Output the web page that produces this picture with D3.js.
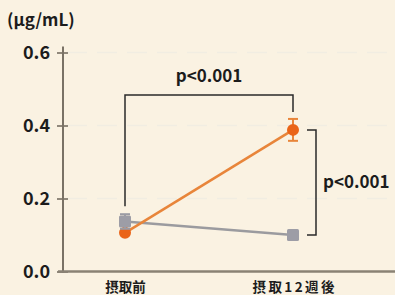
<!DOCTYPE html>
<html><head><meta charset="utf-8">
<script src="https://cdn.jsdelivr.net/npm/d3@7"></script>
<style>
html,body{margin:0;padding:0;background:#faf2e2;}
svg{display:block;}
text{font-family:"Noto Sans CJK JP","Noto Sans",sans-serif;font-weight:700;fill:#1c1c1c;}
</style></head>
<body>
<script>
const categories = ["摂取前", "摂取12週後"];
const orangeValues = [0.106, 0.388];
const orangeErr = [0.006, 0.03];
const grayValues = [0.137, 0.100];
const grayErr = [0.02, 0.01];
const yTicks = [0.0, 0.2, 0.4, 0.6];
const unitLabel = "(μg/mL)";
const pLabel = "p<0.001";

const W = 395, H = 295;
const svg = d3.select("body").append("svg").attr("width", W).attr("height", H);
svg.append("rect").attr("width", W).attr("height", H).attr("fill", "#faf2e2");

const y = d3.scaleLinear().domain([0, 0.6]).range([271.5, 52.5]);
const x = d3.scalePoint().domain(categories).range([125, 293]);
const axisX = 63;

// gridlines
svg.append("g").selectAll("line").data(yTicks.filter(d => d > 0)).join("line")
  .attr("x1", axisX + 4).attr("x2", W)
  .attr("y1", d => y(d)).attr("y2", d => y(d))
  .attr("stroke", "#f1ede2").attr("stroke-width", 1.5).attr("stroke-dasharray", "20,10");

// y axis
const yAxis = d3.axisLeft(y).tickValues(yTicks).tickFormat(d3.format(".1f")).tickSize(5).tickPadding(8);
const gy = svg.append("g").attr("transform", `translate(${axisX},0)`).call(yAxis);
gy.select(".domain").remove();
gy.selectAll(".tick line").attr("x1", -6).attr("x2", 5).attr("stroke", "#6e665a").attr("stroke-width", 1.5);
gy.selectAll(".tick text").attr("font-size", 18).attr("fill", "#1c1c1c")
  .attr("font-family", "'Noto Sans','Noto Sans CJK JP',sans-serif").attr("font-weight", 700);
svg.append("line").attr("x1", axisX).attr("x2", axisX).attr("y1", y(0.6) - 6).attr("y2", y(0) + 1)
  .attr("stroke", "#7a7266").attr("stroke-width", 2);

// x axis
const xAxis = d3.axisBottom(x).tickSize(0).tickPadding(11);
const gx = svg.append("g").attr("transform", `translate(0,${y(0)})`).call(xAxis);
gx.select(".domain").remove();
gx.selectAll(".tick text").attr("font-size", 13.5).attr("fill", "#1c1c1c")
  .attr("font-family", "'Noto Sans CJK JP',sans-serif").attr("font-weight", 900);
gx.selectAll(".tick text").filter((d, i) => i === 1)
  .attr("textLength", 82).attr("lengthAdjust", "spacing");
svg.append("line").attr("x1", axisX - 5).attr("x2", W).attr("y1", y(0)).attr("y2", y(0))
  .attr("stroke", "#8a8274").attr("stroke-width", 2.5);

svg.append("text").attr("x", 7).attr("y", 26).attr("font-size", 17).text(unitLabel)
  .attr("font-family", "'Noto Sans',sans-serif");

// significance brackets
const c0 = x(categories[0]), c1 = x(categories[1]);
const br = svg.append("g").attr("stroke", "#2a2a2a").attr("stroke-width", 1.5).attr("fill", "none");
const topY = 95;
br.append("path").attr("d", `M${c0},${y(grayValues[0] + grayErr[0]) - 8}V${topY}H${c1}V${y(orangeValues[1] + orangeErr[1]) - 7}`);
const bx = 316;
br.append("path").attr("d", `M${c1 + 14},${y(orangeValues[1])}H${bx}V${y(grayValues[1])}H${c1 + 14}`);
svg.append("text").attr("x", (c0 + c1) / 2).attr("y", 82).attr("text-anchor", "middle")
  .attr("font-size", 17).attr("font-family", "'Noto Sans',sans-serif").text(pLabel);
svg.append("text").attr("x", 323).attr("y", 188).attr("font-size", 17)
  .attr("font-family", "'Noto Sans',sans-serif").text(pLabel);

// lines
const line = d3.line().x((d, i) => x(categories[i])).y(d => y(d));
svg.append("path").datum(grayValues).attr("d", line).attr("fill", "none").attr("stroke", "#9b9b9f").attr("stroke-width", 2.5);
svg.append("path").datum(orangeValues).attr("d", line).attr("fill", "none").attr("stroke", "#e8853a").attr("stroke-width", 2.5);

function errBars(vals, errs, color) {
  const g = svg.append("g").attr("stroke", color).attr("stroke-width", 2);
  vals.forEach((v, i) => {
    const cx = x(categories[i]);
    g.append("line").attr("x1", cx).attr("x2", cx).attr("y1", y(v + errs[i])).attr("y2", y(v - errs[i]));
    [v + errs[i], v - errs[i]].forEach(e => g.append("line").attr("x1", cx - 5).attr("x2", cx + 5).attr("y1", y(e)).attr("y2", y(e)));
  });
}
// orange markers
errBars(orangeValues, orangeErr, "#e8853a");
svg.append("g").selectAll("circle").data(orangeValues).join("circle")
  .attr("cx", (d, i) => x(categories[i])).attr("cy", d => y(d)).attr("r", 6).attr("fill", "#ea6418");
// gray markers
errBars(grayValues, grayErr, "#9b9ba3");
svg.append("g").selectAll("rect").data(grayValues).join("rect")
  .attr("x", (d, i) => x(categories[i]) - 6).attr("y", d => y(d) - 6).attr("width", 12).attr("height", 12)
  .attr("rx", 1.5).attr("fill", "#9d9da6");
</script>
</body></html>
